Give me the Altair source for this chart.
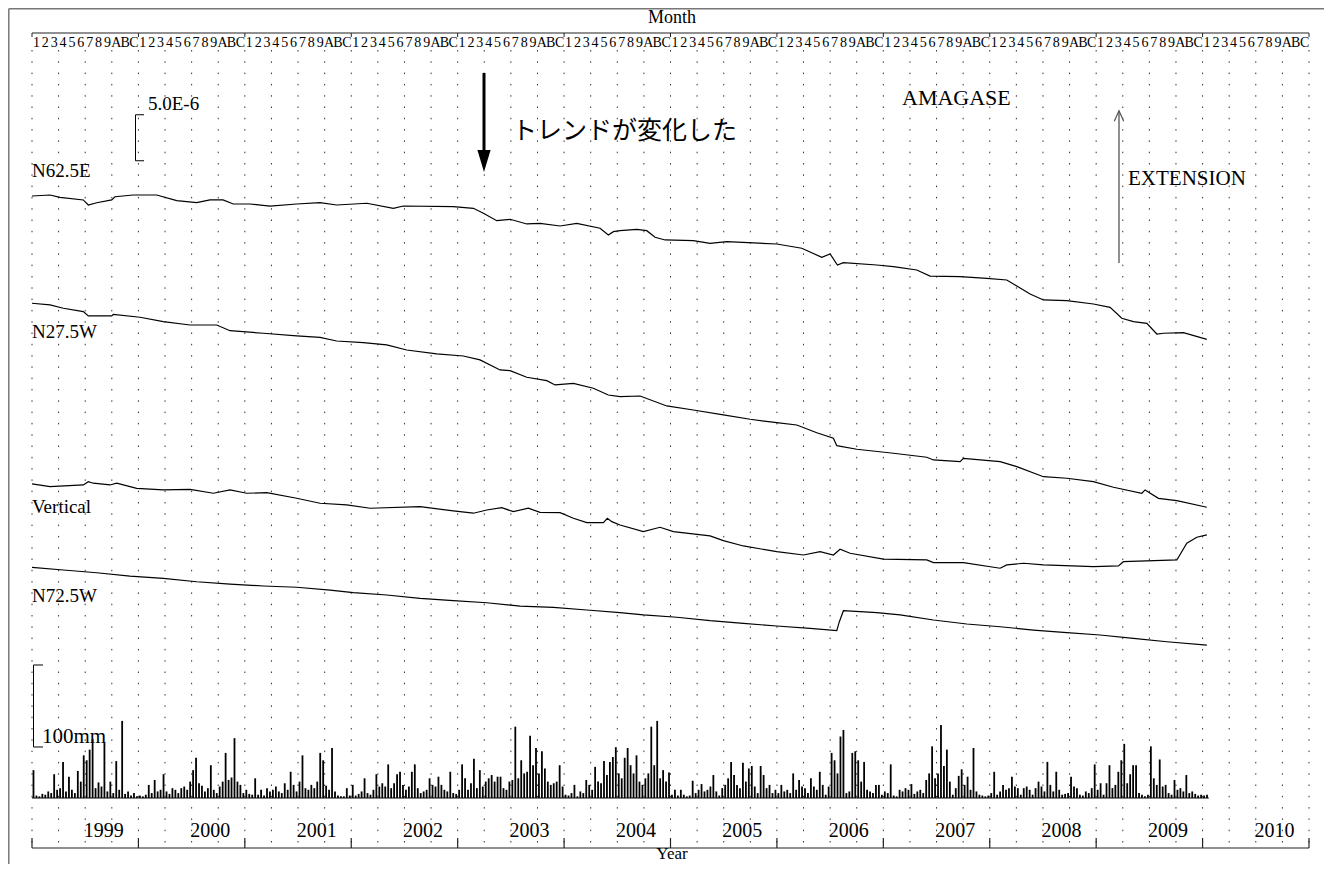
import altair as alt
import pandas as pd

# ---------------- data ----------------
YEARS = list(range(1999, 2011))
MONTH_CHARS = list("123456789ABC")
SERIES = ["N62.5E", "N27.5W", "Vertical", "N72.5W"]

# time: months since Jan 1999 ; value: strain change since start (x1e-6, + = extension)
N625E_T = [0, 2.03, 3.16, 5.79, 6.35, 7.30, 8.99, 9.36, 11.42, 14.06, 16.32, 18.57, 20.07, 21.54, 22.70, 24.59, 26.84, 29.85, 32.48, 34.36, 37.75, 40.75, 41.87, 47.51, 49.77, 50.90, 52.41, 53.91, 55.79, 57.29, 59.55, 61.43, 64.06, 64.99, 65.56, 66.31, 68.20, 69.32, 70.26, 71.39, 74.58, 76.46, 78.35, 83.98, 86.80, 89.06, 90.00, 90.82, 91.50, 95.26, 97.14, 99.77, 101.27, 104.66, 107.67, 109.92, 111.05, 112.55, 114.05, 116.69, 119.69, 121.57, 122.89, 124.20, 125.71, 126.84, 127.59, 129.84, 132.48]
N625E_V = [0, 0.11, -0.14, -0.43, -0.98, -0.73, -0.43, -0.08, 0.11, 0.11, -0.51, -0.73, -0.43, -0.43, -0.87, -0.87, -1.09, -0.87, -0.73, -0.98, -0.79, -1.34, -1.09, -1.16, -1.34, -1.88, -2.68, -2.53, -3.04, -2.97, -3.26, -2.97, -3.51, -4.24, -3.88, -3.77, -3.62, -3.77, -4.49, -4.78, -4.86, -5.14, -4.97, -5.22, -5.68, -6.66, -6.30, -7.50, -7.25, -7.50, -7.68, -8.04, -8.70, -8.77, -8.95, -9.13, -9.78, -10.65, -11.30, -11.38, -11.74, -12.10, -13.29, -13.66, -13.84, -15.00, -14.92, -14.86, -15.58]

N275W_T = [0, 2.03, 3.53, 5.79, 6.35, 8.99, 9.17, 12.18, 14.81, 17.82, 20.83, 22.33, 26.09, 29.85, 32.48, 34.36, 37.36, 40.00, 42.26, 45.64, 48.64, 50.52, 52.78, 53.91, 55.79, 58.05, 58.98, 61.05, 63.30, 64.99, 66.31, 68.57, 71.58, 74.58, 77.96, 80.98, 83.98, 86.24, 88.50, 90.37, 90.75, 93.01, 97.14, 100.90, 101.65, 104.66, 105.03, 109.17, 111.05, 114.05, 116.69, 119.69, 121.95, 125.15, 125.52, 127.02, 129.10, 132.48]
N275W_V = [0, -0.18, -0.54, -0.91, -1.38, -1.38, -1.20, -1.52, -2.00, -2.36, -2.36, -2.98, -3.26, -3.55, -3.70, -4.10, -4.28, -4.53, -5.08, -5.51, -5.73, -6.16, -7.25, -7.33, -8.04, -8.41, -8.88, -8.70, -9.24, -9.97, -10.15, -10.08, -11.16, -11.60, -12.14, -12.61, -12.98, -13.23, -14.07, -14.67, -15.48, -15.87, -16.30, -16.74, -17.03, -17.22, -16.85, -17.22, -17.76, -18.85, -19.02, -19.39, -20.00, -20.65, -20.29, -21.20, -21.46, -22.17]

VERT_T = [0, 2.03, 5.79, 6.35, 6.91, 8.80, 9.55, 11.81, 14.81, 17.82, 20.45, 22.33, 24.21, 26.47, 29.85, 32.48, 35.49, 38.12, 43.76, 47.51, 49.77, 51.28, 52.97, 54.28, 55.97, 57.29, 59.55, 61.05, 62.56, 64.43, 64.88, 65.38, 66.31, 68.94, 70.82, 72.32, 76.46, 77.96, 80.22, 83.98, 86.99, 88.87, 90.37, 91.12, 92.25, 96.01, 100.90, 101.65, 105.03, 109.17, 109.92, 111.80, 114.05, 119.69, 122.51, 123.07, 129.10, 130.22, 131.35, 132.48]
VERT_V = [0, -0.29, -0.11, 0.25, 0.08, -0.11, 0.08, -0.47, -0.65, -0.58, -1.01, -0.65, -1.01, -0.95, -1.55, -2.10, -2.28, -2.64, -2.47, -2.93, -3.18, -2.83, -2.58, -3.01, -2.64, -3.08, -3.12, -3.73, -4.21, -4.21, -3.73, -4.10, -4.46, -5.18, -4.71, -5.18, -5.65, -6.16, -6.74, -7.36, -7.72, -7.36, -7.72, -7.10, -7.53, -8.18, -8.26, -8.55, -8.55, -9.16, -8.80, -8.62, -8.80, -8.99, -8.91, -8.45, -8.26, -6.45, -5.79, -5.54]

N725W_T = [0, 3.53, 7.30, 11.05, 14.81, 18.57, 22.33, 26.09, 29.85, 33.61, 36.24, 40.00, 43.76, 47.51, 51.28, 55.04, 58.79, 62.56, 66.31, 68.94, 72.71, 76.46, 80.22, 83.98, 87.74, 90.75, 91.04, 91.50, 95.26, 97.89, 101.65, 105.41, 109.17, 112.92, 116.69, 120.44, 124.20, 127.97, 132.48]
N725W_V = [0, -0.29, -0.59, -0.95, -1.20, -1.57, -1.82, -2.03, -2.17, -2.47, -2.76, -3.01, -3.37, -3.63, -3.85, -4.21, -4.35, -4.64, -4.93, -5.18, -5.43, -5.80, -6.09, -6.38, -6.63, -6.89, -5.91, -4.72, -4.93, -5.18, -5.73, -6.16, -6.46, -6.82, -7.11, -7.36, -7.72, -8.09, -8.45]

# stacking baselines of the traces on the common strain axis (x1e-6)
TRACE_BASE = [70.87, 59.21, 39.57, 30.51]

# rainfall per 10-day period (mm), 36 per year
RAIN = {
    1999: [34, 3, 2, 5, 4, 8, 6, 29, 10, 12, 44, 8, 26, 10, 6, 33, 20, 52, 46, 59, 72, 12, 19, 14, 67, 8, 20, 6, 45, 10, 94, 5, 8, 3, 6, 2],
    2000: [3, 2, 4, 16, 6, 22, 8, 10, 29, 8, 5, 12, 10, 6, 12, 14, 10, 20, 34, 49, 18, 15, 8, 12, 40, 10, 6, 14, 20, 55, 22, 25, 73, 20, 16, 6],
    2001: [10, 5, 4, 24, 4, 10, 3, 12, 8, 10, 14, 8, 6, 18, 10, 32, 16, 8, 20, 52, 12, 10, 16, 12, 20, 55, 46, 15, 10, 61, 8, 3, 2, 2, 12, 3],
    2002: [16, 3, 5, 8, 24, 6, 4, 10, 29, 14, 18, 14, 41, 12, 18, 29, 32, 16, 10, 14, 32, 41, 12, 6, 8, 10, 24, 16, 14, 26, 16, 10, 8, 32, 6, 5],
    2003: [10, 41, 24, 10, 18, 48, 12, 34, 14, 20, 24, 28, 20, 26, 26, 12, 10, 20, 22, 87, 24, 46, 30, 32, 76, 40, 61, 30, 57, 36, 20, 16, 18, 20, 40, 14],
    2004: [4, 3, 6, 16, 2, 8, 6, 22, 16, 10, 38, 20, 18, 45, 28, 44, 50, 62, 30, 24, 49, 61, 40, 30, 52, 20, 16, 24, 30, 87, 40, 94, 24, 34, 20, 31],
    2005: [4, 10, 3, 10, 4, 2, 3, 21, 6, 10, 17, 8, 10, 14, 28, 8, 3, 12, 16, 24, 44, 28, 16, 12, 43, 20, 36, 39, 14, 6, 39, 28, 12, 16, 6, 10],
    2006: [6, 16, 8, 10, 6, 30, 10, 22, 14, 12, 6, 24, 14, 10, 32, 16, 4, 14, 55, 46, 30, 75, 83, 6, 8, 55, 57, 46, 20, 44, 10, 8, 6, 16, 16, 4],
    2007: [8, 6, 41, 3, 2, 10, 8, 12, 10, 17, 5, 8, 10, 6, 22, 30, 63, 24, 30, 89, 39, 59, 20, 4, 12, 27, 35, 16, 26, 10, 61, 8, 4, 3, 2, 3],
    2008: [6, 32, 4, 8, 16, 10, 12, 26, 14, 12, 4, 12, 14, 10, 4, 12, 20, 14, 8, 44, 16, 8, 32, 10, 4, 5, 6, 26, 14, 12, 4, 3, 8, 6, 12, 41],
    2009: [10, 18, 4, 18, 40, 12, 16, 32, 46, 66, 18, 29, 40, 40, 6, 4, 2, 4, 63, 24, 16, 47, 14, 16, 6, 4, 22, 10, 12, 8, 28, 6, 8, 5, 3, 4],
    2010: [3, 4],
}

STRAIN_BAR = 5.0     # x1e-6
RAIN_BAR = 100.0     # mm

# ---------------- scales / layout ----------------
W, H = 1277, 815
X_DOM = [0, 144]
PX_PER_U = 9.2
Y_DOM = [0, H / PX_PER_U]
PX_PER_MM = 0.82
RAIN_BASE_PX = 50
RAIN_DOM = [-RAIN_BASE_PX / PX_PER_MM, (H - RAIN_BASE_PX) / PX_PER_MM]
SERIF = "Liberation Serif"

xs = alt.Scale(domain=X_DOM, nice=False, zero=False)
ys = alt.Scale(domain=Y_DOM, nice=False, zero=False)
rs = alt.Scale(domain=RAIN_DOM, nice=False, zero=False)

# ---------------- frames ----------------
rows = []
for name, T, V, base in zip(SERIES, [N625E_T, N275W_T, VERT_T, N725W_T],
                            [N625E_V, N275W_V, VERT_V, N725W_V], TRACE_BASE):
    d = pd.DataFrame({"t": T, "v": V})
    d["series"] = name
    d["y"] = d["v"] + base
    rows.append(d)
df_lines = pd.concat(rows, ignore_index=True)

rr = []
for yi, yr in enumerate(YEARS):
    for d, mm in enumerate(RAIN[yr]):
        rr.append({"t": yi * 12 + (d + 0.5) / 3.0, "mm": mm})
df_rain = pd.DataFrame(rr)

df_months = pd.DataFrame([{"t": yi * 12 + mi + 0.5, "c": c}
                          for yi in range(len(YEARS)) for mi, c in enumerate(MONTH_CHARS)])
df_years = pd.DataFrame({"t": [i * 12 + 8.1 for i in range(len(YEARS))],
                         "label": [str(y) for y in YEARS]})
df_bounds = pd.DataFrame({"b": [i * 12 for i in range(len(YEARS) + 1)]})
df_quarters = pd.DataFrame({"q": list(range(0, 145, 3))})
df_axis = pd.DataFrame({"a": [X_DOM[0]], "b": [X_DOM[1]]})
one = pd.DataFrame({"k": [0]})

X = lambda f: alt.X(f, scale=xs, axis=None)

layers = []

# dotted grid
layers.append(alt.Chart(df_quarters).mark_rule(color="#333", strokeWidth=1, strokeDash=[1.5, 9.8]).encode(
    x=X("q:Q"), y=alt.value(17), y2=alt.value(811)))

# top and bottom axis lines
layers.append(alt.Chart(df_axis).mark_rule(color="#222", strokeWidth=1.2).encode(
    x=X("a:Q"), x2="b:Q", y=alt.value(0)))
layers.append(alt.Chart(df_axis).mark_rule(color="#222", strokeWidth=1.2).encode(
    x=X("a:Q"), x2="b:Q", y=alt.value(H)))
layers.append(alt.Chart(df_bounds).mark_rule(color="#222", strokeWidth=1.2).encode(
    x=X("b:Q"), y=alt.value(H - 10), y2=alt.value(H)))
layers.append(alt.Chart(df_bounds).mark_rule(color="#222", strokeWidth=1).encode(
    x=X("b:Q"), y=alt.value(0), y2=alt.value(4)))

# month labels and year labels
layers.append(alt.Chart(df_months).mark_text(font=SERIF, fontSize=14, baseline="alphabetic", color="black").encode(
    x=X("t:Q"), y=alt.value(14), text="c:N"))
layers.append(alt.Chart(df_years).mark_text(font=SERIF, fontSize=20, baseline="alphabetic", color="black").encode(
    x=X("t:Q"), y=alt.value(804), text="label:N"))

# rainfall
last_t = float(df_rain["t"].max()) + 0.2
layers.append(alt.Chart(pd.DataFrame({"a": [0.0], "b": [last_t], "z": [0.0]})).mark_rule(color="black", strokeWidth=1.2).encode(
    x=X("a:Q"), x2="b:Q", y=alt.Y("z:Q", scale=rs, axis=None)))
layers.append(alt.Chart(df_rain).mark_rule(color="black", strokeWidth=1.8).encode(
    x=X("t:Q"), y=alt.Y("mm:Q", scale=rs, axis=None), y2=alt.datum(0)))

# strain traces
layers.append(alt.Chart(df_lines).mark_line(color="black", strokeWidth=1.2).encode(
    x=X("t:Q"), y=alt.Y("y:Q", scale=ys, axis=None), detail="series:N", order="t:Q"))

# 5.0E-6 scale bracket
df_sb = pd.DataFrame({"top": [79.7], "bot": [79.7 - STRAIN_BAR]})
layers.append(alt.Chart(df_sb).mark_rule(color="black", strokeWidth=1).encode(
    x=alt.value(103.5), y=alt.Y("top:Q", scale=ys, axis=None), y2="bot:Q"))
layers.append(alt.Chart(df_sb).mark_rule(color="black", strokeWidth=1).encode(
    x=alt.value(103.5), x2=alt.value(112), y=alt.Y("top:Q", scale=ys, axis=None)))
layers.append(alt.Chart(df_sb).mark_rule(color="black", strokeWidth=1).encode(
    x=alt.value(103.5), x2=alt.value(112), y=alt.Y("bot:Q", scale=ys, axis=None)))

# 100 mm scale bracket
df_rb = pd.DataFrame({"top": [62.2 + RAIN_BAR], "bot": [62.2]})
layers.append(alt.Chart(df_rb).mark_rule(color="black", strokeWidth=1).encode(
    x=alt.value(1.5), y=alt.Y("top:Q", scale=rs, axis=None), y2="bot:Q"))
layers.append(alt.Chart(df_rb).mark_rule(color="black", strokeWidth=1).encode(
    x=alt.value(1.5), x2=alt.value(11), y=alt.Y("top:Q", scale=rs, axis=None)))
layers.append(alt.Chart(df_rb).mark_rule(color="black", strokeWidth=1).encode(
    x=alt.value(1.5), x2=alt.value(11), y=alt.Y("bot:Q", scale=rs, axis=None)))

# trend arrow
layers.append(alt.Chart(one).mark_rule(color="black", strokeWidth=3).encode(
    x=alt.value(452), y=alt.value(40), y2=alt.value(120)))
layers.append(alt.Chart(one).mark_point(shape="M-0.6,-1L0.6,-1L0,1Z", filled=True, color="black", size=484, opacity=1).encode(
    x=alt.value(452), y=alt.value(128)))

# extension arrow
layers.append(alt.Chart(one).mark_rule(color="#555", strokeWidth=1.3).encode(
    x=alt.value(1087), y=alt.value(78), y2=alt.value(230)))
layers.append(alt.Chart(one).mark_point(shape="M-0.9,1L0,-1L0.9,1", filled=False, stroke="#555", strokeWidth=1.2, size=110, opacity=1).encode(
    x=alt.value(1087), y=alt.value(83)))


def txt(s, x, y, size, font=SERIF, align="left", baseline="alphabetic", color="black"):
    return alt.Chart(one).mark_text(text=s, font=font, fontSize=size, align=align, baseline=baseline, color=color).encode(
        x=alt.value(x), y=alt.value(y))


layers += [
    txt("Month", 640, -10, 18, align="center"),
    txt("Year", 640, 826, 17, align="center"),
    txt("5.0E-6", 116, 77, 19),
    txt("100mm", 10, 710, 21),
    txt("トレンドが変化した", 480, 98, 25, font="Noto Sans CJK JP", baseline="middle"),
    txt("AMAGASE", 870, 72, 22),
    txt("EXTENSION", 1096, 152, 21),
    txt("N62.5E", 0, 144, 19),
    txt("N27.5W", 0, 305, 19),
    txt("Vertical", 0, 480, 19),
    txt("N72.5W", 0, 569, 19),
]

# frame lines (image border)
layers.append(alt.Chart(one).mark_rule(color="#777", strokeWidth=1.5).encode(
    x=alt.value(-23.2), y=alt.value(-24.2), y2=alt.value(831)))
layers.append(alt.Chart(one).mark_rule(color="#777", strokeWidth=1.5).encode(
    x=alt.value(-23.2), x2=alt.value(1292), y=alt.value(-24.2)))

chart = alt.layer(*layers).resolve_scale(y="independent").properties(
    width=W, height=H,
    padding={"left": 24, "top": 25, "right": 15, "bottom": 16},
    autosize=alt.AutoSizeParams(type="none"),
    background="white",
).configure_view(stroke=None)

chart.save("out.html", embed_options={"renderer": "svg", "actions": False})
